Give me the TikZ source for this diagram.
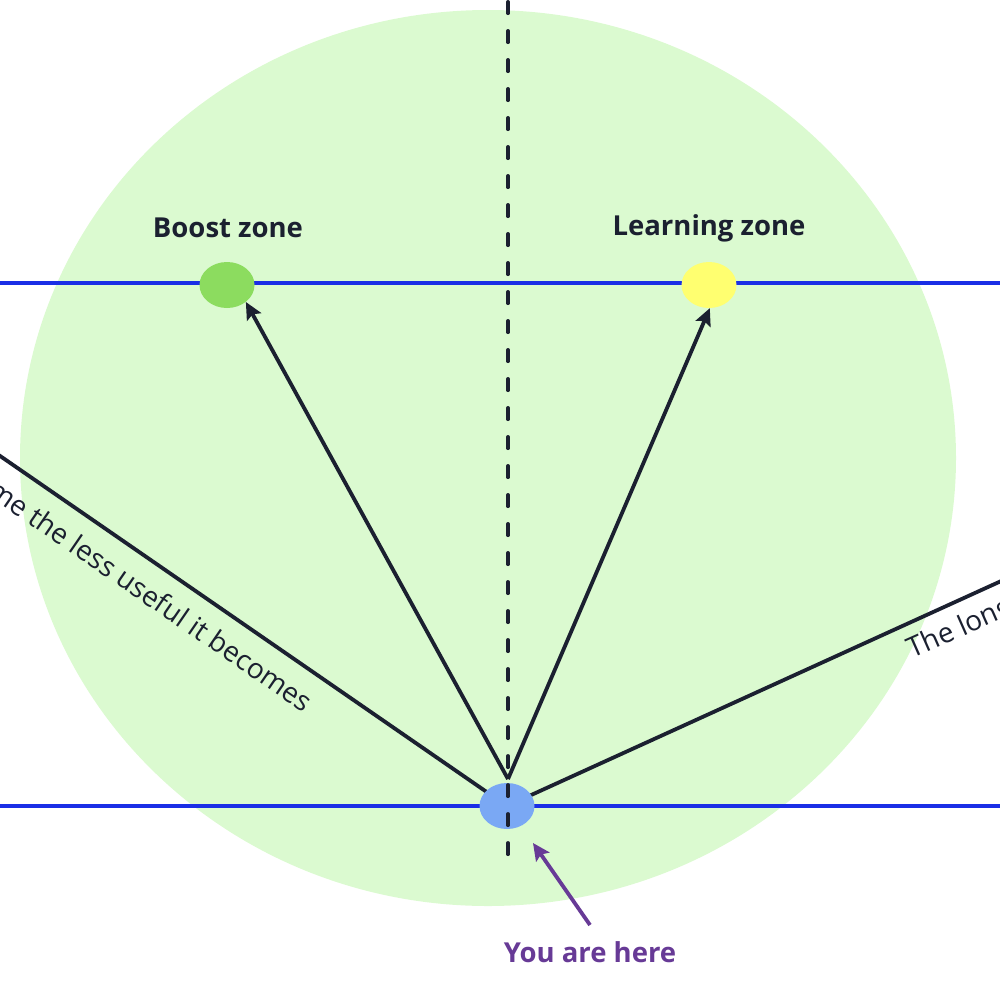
\documentclass[tikz,border=0pt]{standalone}
\usepackage{fontspec}
\setmainfont{Open Sans}
\usetikzlibrary{arrows.meta,shapes.geometric}
\definecolor{bgcircle}{RGB}{219,250,208}
\definecolor{blueline}{RGB}{26,46,230}
\definecolor{ink}{RGB}{27,32,48}
\definecolor{boostfill}{RGB}{140,220,95}
\definecolor{learnfill}{RGB}{255,255,112}
\definecolor{herefill}{RGB}{122,168,244}
\definecolor{purplearrow}{RGB}{103,58,150}
\tikzset{
  zoneline/.style={blueline, line width=3.8pt},
  spot/.style={ellipse, inner sep=0pt, minimum width=55pt, minimum height=46pt},
  ray/.style={ink, line width=3.8pt},
  arrowray/.style={ink, line width=3.8pt, -{Stealth[length=17pt,width=16pt,inset=3pt]}},
  zonelabel/.style={font=\fontsize{27.5}{30}\selectfont\bfseries, text=ink, inner sep=0pt},
  slanttext/.style={font=\fontsize{28}{31}\selectfont, text=ink, inner sep=0pt},
}
\begin{document}
\begin{tikzpicture}[x=1pt,y=-1pt]
\useasboundingbox (0,0) rectangle (1000,996);
\clip (0,0) rectangle (1000,996);
% big circle
\fill[bgcircle] (488,458) ellipse [x radius=468, y radius=448];
% blue horizontal lines
\coordinate (topL) at (0,283);
\coordinate (topR) at (1000,283);
\coordinate (botL) at (0,806);
\coordinate (botR) at (1000,806);
\draw[zoneline] (topL) -- (topR);
\draw[zoneline] (botL) -- (botR);
% ray ends
\coordinate (hereC) at (507,806);
\coordinate (leftEnd) at (-10,449);
\coordinate (rightEnd) at (1010,577);
% long rays
\draw[ray] (hereC) -- (leftEnd);
\draw[ray] (hereC) -- (rightEnd);
% spots
\node[spot, fill=boostfill] (boost) at (227,285) {};
\node[spot, fill=learnfill] (learn) at (709,285) {};
\node[spot, fill=herefill] (here) at (507,806) {};
% dashed vertical line
\coordinate (dashTop) at (508,1.8);
\coordinate (dashBot) at (508,860);
\draw[ink, line width=3.5pt, line cap=round, dash pattern=on 11.5pt off 17.5pt] (dashTop) -- (dashBot);
% arrows
\coordinate (apex) at (508,779);
\draw[arrowray] (apex) -- (boost.-42);
\draw[arrowray] (apex) -- (learn.-88);
% labels
\node[zonelabel] (boostlbl) at (228,228) {Boost zone};
\node[zonelabel] (learnlbl) at (709,228) {Learning zone};
\node[zonelabel, text=purplearrow] (you) at (590,952) {You are here};
\coordinate (youTail) at (590,925);
\coordinate (hereTip) at (533,843);
\draw[purplearrow, line width=3.8pt, -{Stealth[length=17pt,width=16pt,inset=3pt]}] (youTail) -- (hereTip);
% slanted texts
\node[slanttext, anchor=base east, rotate=-34.5] (lefttext) at (304,713) {The longer the time the less useful it becomes};
\node[slanttext, anchor=base west, rotate=23.9] (righttext) at (912,659) {The longer};
\end{tikzpicture}
\end{document}
